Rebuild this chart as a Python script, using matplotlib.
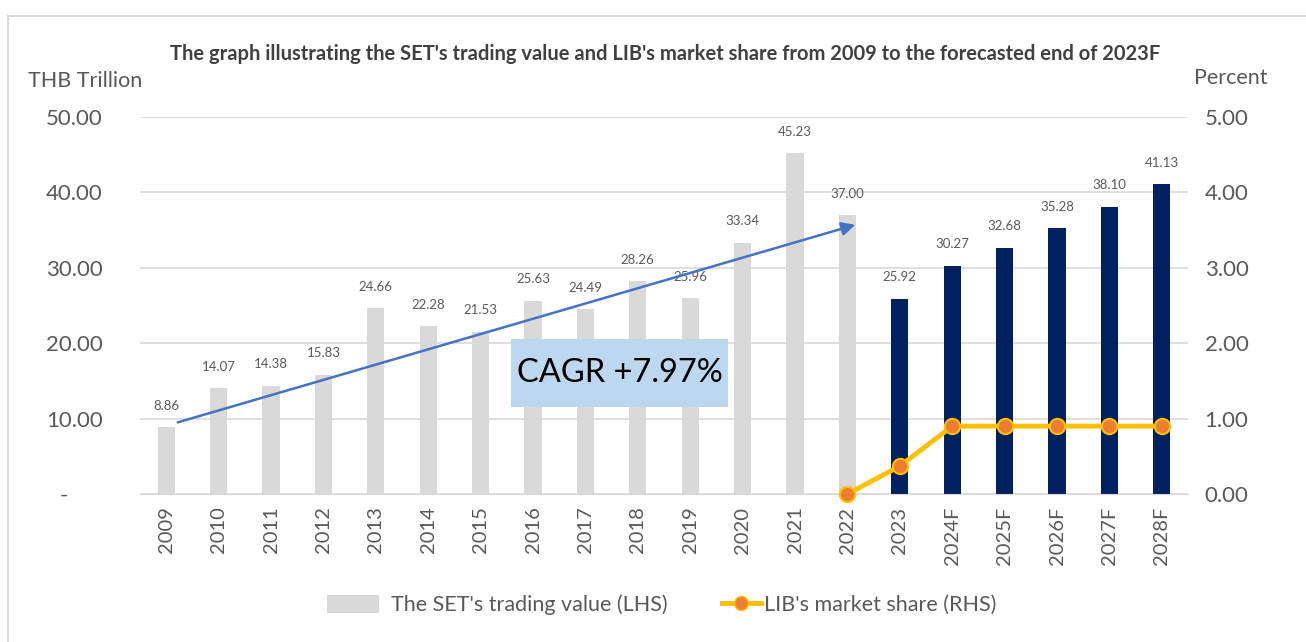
import numpy as np
import matplotlib.pyplot as plt
from matplotlib.patches import Rectangle
from matplotlib.lines import Line2D

plt.rcParams['font.family'] = ['Lato', 'DejaVu Sans']

years = ['2009', '2010', '2011', '2012', '2013', '2014', '2015', '2016', '2017', '2018',
         '2019', '2020', '2021', '2022', '2023', '2024F', '2025F', '2026F', '2027F', '2028F']
trading_value = [8.86, 14.07, 14.38, 15.83, 24.66, 22.28, 21.53, 25.63, 24.49, 28.26,
                 25.96, 33.34, 45.23, 37.00, 25.92, 30.27, 32.68, 35.28, 38.10, 41.13]
market_share = [np.nan] * 13 + [0.0, 0.37, 0.9, 0.9, 0.9, 0.9, 0.9]
n_hist = 14  # 2009-2022 in gray, rest navy

gray = '#d9d9d9'
navy = '#002060'
txt = '#595959'

fig = plt.figure(figsize=(13.06, 6.42), dpi=100)
fig.patches.append(Rectangle((8 / 1306, -0.1), 1.2, (642 - 16) / 642 + 0.1,
                             transform=fig.transFigure, fill=False,
                             edgecolor='#d9d9d9', linewidth=1.5))
ax = fig.add_axes([140 / 1306, 1 - 494 / 642, 1048 / 1306, 377 / 642])
ax2 = ax.twinx()

x = np.arange(len(years))
colors = [gray if i < n_hist else navy for i in range(len(years))]
ax.bar(x, trading_value, width=0.33, color=colors, zorder=2)
for xi, v in zip(x, trading_value):
    ax.annotate(f'{v:.2f}', (xi, v), xytext=(0, 11), textcoords='offset points',
                ha='center', va='bottom', fontsize=9.5, color=txt)

ax.set_xlim(-0.5, len(years) - 0.5)
ax.set_ylim(0, 50)
ax.set_yticks(range(0, 51, 10))
ax.set_yticklabels(['-      '] + [f'{v:.2f}' for v in range(10, 51, 10)])
ax.set_xticks(x)
ax.set_xticklabels(years, rotation=90)
ax.grid(axis='y', color='#d9d9d9', linewidth=1.2, zorder=0)
ax.set_axisbelow(True)
ax.tick_params(axis='y', length=0, pad=27, labelsize=16, labelcolor=txt)
ax.tick_params(axis='x', length=0, pad=9, labelsize=14.5, labelcolor=txt)
for s in ax.spines.values():
    s.set_visible(False)
ax.spines['bottom'].set_visible(True)
ax.spines['bottom'].set_color('#d9d9d9')

ax2.plot(x, market_share, color='#ffc000', linewidth=3.5, marker='o', markersize=11,
         markerfacecolor='#ed7d31', markeredgecolor='#ffc000', markeredgewidth=1.5,
         zorder=5, clip_on=False)
ax2.set_ylim(0, 5)
ax2.set_yticks(np.arange(0, 5.01, 1))
ax2.set_yticklabels([f'{v:.2f}' for v in np.arange(0, 5.01, 1)])
ax2.tick_params(axis='y', length=0, pad=12, labelsize=16, labelcolor=txt)
for s in ax2.spines.values():
    s.set_visible(False)

# CAGR arrow and box
ax.annotate('', xy=(13.2, 35.8), xytext=(0.17, 9.4),
            arrowprops=dict(arrowstyle='-|>', color='#4472c4', lw=1.8,
                            mutation_scale=20), zorder=4)
ax.add_patch(Rectangle((6.58, 11.54), 4.14, 9.02, facecolor='#bdd7ee',
                       edgecolor='none', zorder=6))
ax.text(8.65, 16.0, 'CAGR +7.97%', ha='center', va='center', fontsize=23.5,
        color='black', zorder=7)

fig.text(665 / 1306, 1 - 54 / 642,
         "The graph illustrating the SET's trading value and LIB's market share from 2009 to the forecasted end of 2023F",
         ha='center', va='center', fontsize=14.5, fontweight='bold', color='#404040')
fig.text(85 / 1306, 1 - 81 / 642, 'THB Trillion', ha='center', va='center',
         fontsize=15.5, color=txt)
fig.text(1231 / 1306, 1 - 78 / 642, 'Percent', ha='center', va='center',
         fontsize=15.5, color=txt)

leg_y = 1 - 605 / 642
leg1 = fig.legend([Rectangle((0, 0), 1, 1, facecolor=gray, edgecolor='none')],
                  ["The SET's trading value (LHS)"],
                  loc='center left', bbox_to_anchor=(327 / 1306, leg_y),
                  frameon=False, fontsize=15.5, labelcolor=txt, handlelength=2.4,
                  handleheight=0.9, handletextpad=0.55, borderpad=0, borderaxespad=0)
fig.legend([Line2D([], [], color='#ffc000', linewidth=3.5, marker='o', markersize=10,
                   markerfacecolor='#ed7d31', markeredgecolor='#ffc000')],
           ["LIB's market share (RHS)"],
           loc='center left', bbox_to_anchor=(722 / 1306, leg_y),
           frameon=False, fontsize=15.5, labelcolor=txt, handlelength=1.8,
           handletextpad=0.15, borderpad=0, borderaxespad=0)

fig.savefig('out.png', dpi=100)
